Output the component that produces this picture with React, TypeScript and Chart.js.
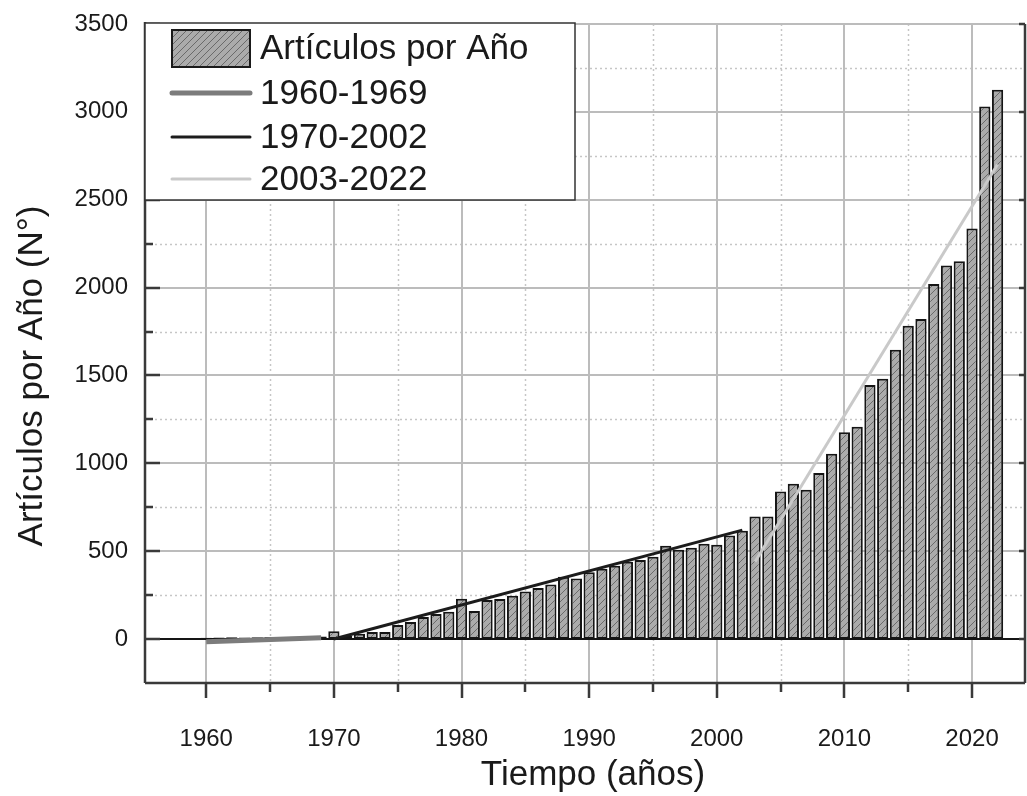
import React, { useEffect, useRef } from 'react';
import { Chart, registerables } from 'chart.js';

Chart.register(...registerables);

// ---------- data ----------
const YEARS = [
  1960, 1961, 1962, 1963, 1964, 1965, 1966, 1967, 1968, 1969,
  1970, 1971, 1972, 1973, 1974, 1975, 1976, 1977, 1978, 1979,
  1980, 1981, 1982, 1983, 1984, 1985, 1986, 1987, 1988, 1989,
  1990, 1991, 1992, 1993, 1994, 1995, 1996, 1997, 1998, 1999,
  2000, 2001, 2002, 2003, 2004, 2005, 2006, 2007, 2008, 2009,
  2010, 2011, 2012, 2013, 2014, 2015, 2016, 2017, 2018, 2019,
  2020, 2021, 2022,
];
const ARTICLES = [
  8, 9, 10, 9, 11, 12, 11, 13, 14, 15,
  45, 18, 30, 40, 40, 80, 97, 126, 142, 156,
  230, 160, 222, 228, 246, 270, 290, 310, 354, 345,
  380, 400, 417, 440, 450, 469, 531, 508, 520, 543,
  537, 589, 617, 697, 697, 840, 884, 850, 945, 1055,
  1177, 1208, 1446, 1482, 1646, 1783, 1821, 2021, 2126, 2150,
  2337, 3030, 3126,
];
const FIT_1960_YEARS = [1960, 1969];
const FIT_1960_VALUES = [-15, 8];
const FIT_1970_YEARS = [1970, 2002];
const FIT_1970_VALUES = [0, 620];
const FIT_2003_YEARS = [2003, 2022];
const FIT_2003_VALUES = [440, 2700];

const X_TICKS = [1960, 1970, 1980, 1990, 2000, 2010, 2020];
const X_MINOR = [1965, 1975, 1985, 1995, 2005, 2015];
const Y_TICKS = [0, 500, 1000, 1500, 2000, 2500, 3000, 3500];
const Y_MINOR = [250, 750, 1250, 1750, 2250, 2750, 3250];

const LEGEND_LABELS = ['Artículos por Año', '1960-1969', '1970-2002', '2003-2022'];
const X_TITLE = 'Tiempo (años)';
const Y_TITLE = 'Artículos por Año (N°)';

const FONT = '"Liberation Sans", Arial, sans-serif';

function makeHatch(ctx: CanvasRenderingContext2D): CanvasPattern | string {
  const s = 7;
  const c = document.createElement('canvas');
  c.width = s;
  c.height = s;
  const g = c.getContext('2d');
  if (!g) return '#a8a8a8';
  g.fillStyle = '#ababab';
  g.fillRect(0, 0, s, s);
  g.strokeStyle = '#6a6a6a';
  g.lineWidth = 1;
  g.beginPath();
  g.moveTo(0, s);
  g.lineTo(s, 0);
  g.moveTo(-1, 1);
  g.lineTo(1, -1);
  g.moveTo(s - 1, s + 1);
  g.lineTo(s + 1, s - 1);
  g.stroke();
  return ctx.createPattern(c, 'repeat') || '#a8a8a8';
}

export default function App() {
  const ref = useRef<HTMLCanvasElement | null>(null);

  useEffect(() => {
    document.body.style.margin = '0';
    const canvas = ref.current;
    if (!canvas) return;
    const ctx0 = canvas.getContext('2d')!;
    const hatch = makeHatch(ctx0);

    const framePlugin = {
      id: 'frame',
      beforeDatasetsDraw(chart: any) {
        const { ctx, chartArea: a, scales } = chart;
        const x = scales.x;
        const y = scales.y;
        ctx.save();
        ctx.strokeStyle = '#c6c6c6';
        ctx.lineWidth = 1.5;
        ctx.setLineDash([2, 3]);
        ctx.beginPath();
        Y_MINOR.forEach((v) => {
          const py = Math.round(y.getPixelForValue(v)) + 0.5;
          ctx.moveTo(a.left, py);
          ctx.lineTo(a.right, py);
        });
        X_MINOR.forEach((v) => {
          const px = Math.round(x.getPixelForValue(v)) + 0.5;
          ctx.moveTo(px, a.top);
          ctx.lineTo(px, a.bottom);
        });
        ctx.stroke();
        ctx.setLineDash([]);
        ctx.strokeStyle = '#bcbcbc';
        ctx.lineWidth = 2;
        ctx.beginPath();
        Y_TICKS.forEach((v) => {
          if (v === 0) return;
          const py = Math.round(y.getPixelForValue(v));
          ctx.moveTo(a.left, py);
          ctx.lineTo(a.right, py);
        });
        X_TICKS.forEach((v) => {
          const px = Math.round(x.getPixelForValue(v));
          ctx.moveTo(px, a.top);
          ctx.lineTo(px, a.bottom);
        });
        ctx.stroke();
        ctx.strokeStyle = '#151515';
        ctx.lineWidth = 2;
        ctx.beginPath();
        const p0 = Math.round(y.getPixelForValue(0));
        ctx.moveTo(a.left, p0);
        ctx.lineTo(a.right, p0);
        ctx.stroke();
        ctx.restore();
      },
      afterDatasetsDraw(chart: any) {
        const { ctx, chartArea: a, scales } = chart;
        const x = scales.x;
        const y = scales.y;
        ctx.save();
        ctx.strokeStyle = '#3a3a3a';
        ctx.lineWidth = 2.5;
        ctx.beginPath();
        ctx.moveTo(a.left, a.top - 2);
        ctx.lineTo(a.left, a.bottom);
        ctx.moveTo(a.left, a.bottom);
        ctx.lineTo(a.right, a.bottom);
        ctx.moveTo(a.right, a.top);
        ctx.lineTo(a.right, a.bottom);
        ctx.stroke();
        ctx.beginPath();
        Y_TICKS.forEach((v) => {
          const py = Math.round(y.getPixelForValue(v));
          ctx.moveTo(a.left, py);
          ctx.lineTo(a.left + 15, py);
          ctx.moveTo(a.right, py);
          ctx.lineTo(a.right - 6, py);
        });
        Y_MINOR.forEach((v) => {
          const py = Math.round(y.getPixelForValue(v));
          ctx.moveTo(a.left, py);
          ctx.lineTo(a.left + 8, py);
        });
        X_TICKS.forEach((v) => {
          const px = Math.round(x.getPixelForValue(v));
          ctx.moveTo(px, a.bottom);
          ctx.lineTo(px, a.bottom + 15);
        });
        X_MINOR.forEach((v) => {
          const px = Math.round(x.getPixelForValue(v));
          ctx.moveTo(px, a.bottom);
          ctx.lineTo(px, a.bottom + 9);
        });
        ctx.stroke();
        ctx.restore();
      },
      afterDraw(chart: any) {
        const { ctx, chartArea: a } = chart;
        ctx.save();
        const lx = a.left;
        const ly = a.top - 1;
        const lw = 430;
        const lh = 177;
        ctx.fillStyle = '#ffffff';
        ctx.fillRect(lx, ly, lw, lh);
        ctx.strokeStyle = '#333333';
        ctx.lineWidth = 1.5;
        ctx.strokeRect(lx, ly, lw, lh);
        ctx.fillStyle = hatch as any;
        ctx.fillRect(172, 30, 78, 37);
        ctx.strokeStyle = '#1a1a1a';
        ctx.lineWidth = 2;
        ctx.strokeRect(172, 30, 78, 37);
        const rows = [48, 93, 137, 179];
        const lineStyles = [
          null,
          { c: '#7c7c7c', w: 5 },
          { c: '#1c1c1c', w: 3 },
          { c: '#c9c9c9', w: 3 },
        ];
        lineStyles.forEach((st, i) => {
          if (!st) return;
          ctx.strokeStyle = st.c;
          ctx.lineWidth = st.w;
          ctx.lineCap = 'round';
          ctx.beginPath();
          ctx.moveTo(172, rows[i]);
          ctx.lineTo(250, rows[i]);
          ctx.stroke();
        });
        ctx.fillStyle = '#1a1a1a';
        ctx.font = `35px ${FONT}`;
        ctx.textAlign = 'left';
        ctx.textBaseline = 'middle';
        LEGEND_LABELS.forEach((t, i) => {
          ctx.fillText(t, 260, rows[i] + 1);
        });
        ctx.font = `35px ${FONT}`;
        ctx.textAlign = 'center';
        ctx.textBaseline = 'middle';
        ctx.fillText(X_TITLE, 593, 775);
        ctx.translate(32, 376);
        ctx.rotate(-Math.PI / 2);
        ctx.fillText(Y_TITLE, 0, 0);
        ctx.restore();
      },
    };

    const chart = new Chart(canvas, {
      type: 'bar',
      data: {
        datasets: [
          {
            type: 'line',
            label: LEGEND_LABELS[1],
            data: FIT_1960_YEARS.map((yr, i) => ({ x: yr, y: FIT_1960_VALUES[i] })),
            borderColor: '#7c7c7c',
            borderWidth: 5,
            pointRadius: 0,
            order: 1,
          } as any,
          {
            type: 'line',
            label: LEGEND_LABELS[2],
            data: FIT_1970_YEARS.map((yr, i) => ({ x: yr, y: FIT_1970_VALUES[i] })),
            borderColor: '#1c1c1c',
            borderWidth: 3,
            pointRadius: 0,
            order: 1,
          } as any,
          {
            type: 'line',
            label: LEGEND_LABELS[3],
            data: FIT_2003_YEARS.map((yr, i) => ({ x: yr, y: FIT_2003_VALUES[i] })),
            borderColor: '#c9c9c9',
            borderWidth: 3,
            pointRadius: 0,
            order: 1,
          } as any,
          {
            type: 'bar',
            label: LEGEND_LABELS[0],
            data: YEARS.map((yr, i) => ({ x: yr, y: ARTICLES[i] })),
            backgroundColor: hatch as any,
            borderColor: '#151515',
            borderWidth: 2,
            borderSkipped: false,
            barPercentage: 0.88,
            categoryPercentage: 1,
            order: 2,
          } as any,
        ],
      },
      options: {
        animation: false,
        responsive: false,
        events: [],
        layout: { padding: { top: 24, right: 2, left: 0, bottom: 0 } },
        plugins: {
          legend: { display: false },
          tooltip: { enabled: false },
          title: { display: false },
        },
        scales: {
          x: {
            type: 'linear',
            min: 1955.2,
            max: 2024.15,
            offset: false,
            grid: { display: false, drawTicks: false },
            border: { display: false },
            afterBuildTicks: (s: any) => {
              s.ticks = X_TICKS.map((v) => ({ value: v }));
            },
            afterFit: (s: any) => {
              s.height = 113;
              s.paddingLeft = 0;
              s.paddingRight = 0;
            },
            ticks: {
              callback: (v: any) => String(v),
              color: '#1a1a1a',
              font: { family: FONT, size: 24 },
              padding: 42,
              maxRotation: 0,
              autoSkip: false,
            },
          },
          y: {
            type: 'linear',
            min: -250,
            max: 3500,
            grid: { display: false, drawTicks: false },
            border: { display: false },
            afterBuildTicks: (s: any) => {
              s.ticks = Y_TICKS.map((v) => ({ value: v }));
            },
            afterFit: (s: any) => {
              s.width = 145;
              s.paddingTop = 0;
              s.paddingBottom = 0;
            },
            ticks: {
              callback: (v: any) => String(v),
              color: '#1a1a1a',
              font: { family: FONT, size: 24 },
              padding: 17,
              autoSkip: false,
            },
          },
        },
      },
      plugins: [framePlugin],
    });

    return () => chart.destroy();
  }, []);

  return (
    <canvas
      ref={ref}
      width={1027}
      height={796}
      style={{ display: 'block', width: 1027, height: 796 }}
    />
  );
}
